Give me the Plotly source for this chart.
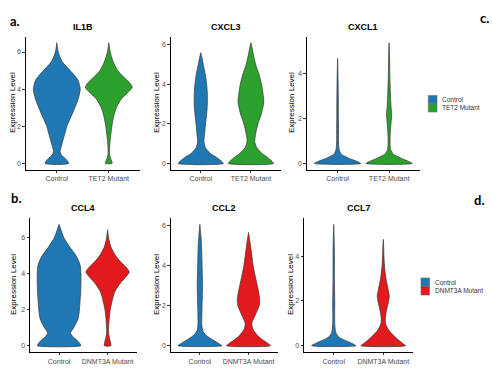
import plotly.graph_objects as go

W, H = 492, 375

# ---------------- data: violin density profiles ----------------
# y levels (expression) and relative violin width (1 = widest in that panel)
genes = ["IL1B", "CXCL3", "CXCL1", "CCL4", "CCL2", "CCL7"]
groups_top = ["Control", "TET2 Mutant"]
groups_bot = ["Control", "DNMT3A Mutant"]

il1b_ctrl_y = [0, 0.15, 0.3, 0.45, 0.63, 1, 1.5, 2, 2.5, 3, 3.5, 4, 4.5, 5, 5.5, 6, 6.5]
il1b_ctrl_d = [0.5, 0.45, 0.33, 0.2, 0.14, 0.21, 0.32, 0.43, 0.6, 0.77, 0.92, 1.0, 0.9, 0.57, 0.22, 0.06, 0]
il1b_tet2_y = [0, 0.1, 0.3, 0.5, 1, 1.5, 2, 2.5, 3, 3.5, 3.8, 4.1, 4.4, 4.7, 5, 5.5, 6, 6.5]
il1b_tet2_d = [0.14, 0.13, 0.07, 0.03, 0.04, 0.08, 0.13, 0.2, 0.32, 0.55, 0.8, 1.0, 0.85, 0.6, 0.38, 0.18, 0.06, 0]

cxcl3_ctrl_y = [0, 0.1, 0.3, 0.5, 0.8, 1.1, 1.5, 2, 2.5, 3, 3.5, 4, 4.5, 5, 5.3, 5.6]
cxcl3_ctrl_d = [1.0, 0.93, 0.71, 0.43, 0.21, 0.14, 0.17, 0.21, 0.26, 0.29, 0.29, 0.26, 0.2, 0.11, 0.06, 0]
cxcl3_tet2_y = [0, 0.1, 0.3, 0.5, 0.8, 1.1, 1.5, 2, 2.5, 3, 3.2, 3.5, 4, 4.5, 5, 5.5, 5.8, 6.1]
cxcl3_tet2_d = [1.0, 0.94, 0.74, 0.5, 0.26, 0.17, 0.21, 0.31, 0.46, 0.56, 0.57, 0.54, 0.47, 0.36, 0.21, 0.11, 0.06, 0]

cxcl1_ctrl_y = [0, 0.1, 0.2, 0.3, 0.4, 0.6, 1, 1.5, 2, 3, 4, 4.65]
cxcl1_ctrl_d = [1.0, 0.82, 0.56, 0.35, 0.17, 0.07, 0.04, 0.04, 0.035, 0.03, 0.015, 0]
cxcl1_tet2_y = [0, 0.1, 0.2, 0.3, 0.4, 0.6, 1, 1.5, 2, 2.2, 2.5, 3, 4, 5, 5.35]
cxcl1_tet2_d = [1.0, 0.82, 0.59, 0.39, 0.2, 0.07, 0.04, 0.06, 0.1, 0.11, 0.085, 0.06, 0.03, 0.015, 0]

ccl4_ctrl_y = [0, 0.1, 0.3, 0.5, 0.7, 1, 1.5, 2, 2.5, 3, 3.5, 4, 4.5, 5, 5.5, 6, 6.5, 6.75]
ccl4_ctrl_d = [1.0, 0.96, 0.82, 0.63, 0.52, 0.67, 0.87, 0.93, 0.96, 0.99, 1.0, 1.0, 0.96, 0.78, 0.48, 0.22, 0.07, 0]
ccl4_dnmt_y = [0, 0.2, 0.4, 0.7, 1, 1.5, 2, 2.5, 3, 3.5, 3.8, 4.1, 4.4, 4.7, 5, 5.5, 6, 6.45]
ccl4_dnmt_d = [0.15, 0.13, 0.09, 0.045, 0.045, 0.075, 0.12, 0.21, 0.33, 0.6, 0.82, 0.99, 0.82, 0.57, 0.37, 0.15, 0.045, 0]

ccl2_ctrl_y = [0, 0.1, 0.3, 0.5, 0.7, 1, 1.5, 2, 3, 4, 5, 5.5, 6.05]
ccl2_ctrl_d = [1.0, 0.87, 0.57, 0.3, 0.15, 0.09, 0.09, 0.1, 0.12, 0.1, 0.075, 0.045, 0]
ccl2_dnmt_y = [0, 0.1, 0.3, 0.5, 0.8, 1.1, 1.5, 2, 2.2, 2.5, 3, 3.5, 4, 4.5, 5, 5.65]
ccl2_dnmt_d = [1.0, 0.9, 0.63, 0.42, 0.21, 0.15, 0.3, 0.49, 0.51, 0.49, 0.4, 0.3, 0.21, 0.15, 0.09, 0]

ccl7_ctrl_y = [0, 0.1, 0.2, 0.3, 0.4, 0.6, 1, 2, 3, 4, 5, 5.42]
ccl7_ctrl_d = [0.99, 0.82, 0.6, 0.37, 0.21, 0.09, 0.045, 0.045, 0.03, 0.03, 0.015, 0]
ccl7_dnmt_y = [0, 0.1, 0.3, 0.5, 0.7, 1, 1.2, 1.5, 2, 2.2, 2.5, 3, 3.5, 4, 4.5, 4.75]
ccl7_dnmt_d = [1.0, 0.87, 0.63, 0.42, 0.24, 0.1, 0.09, 0.13, 0.24, 0.27, 0.22, 0.12, 0.06, 0.03, 0.015, 0]

# ---------------- styling / layout ----------------
BLUE = "#1f78b4"
GREEN = "#2ca02c"
RED = "#e31a1c"
FONT = "Liberation Sans"

panels = [
    dict(gene="IL1B", groups=groups_top, mut_color=GREEN,
         prof=[(il1b_ctrl_y, il1b_ctrl_d), (il1b_tet2_y, il1b_tet2_d)],
         box=(25.6, 140, 36.7, 169.5), ytitle_x=12),
    dict(gene="CXCL3", groups=groups_top, mut_color=GREEN,
         prof=[(cxcl3_ctrl_y, cxcl3_ctrl_d), (cxcl3_tet2_y, cxcl3_tet2_d)],
         box=(170.7, 281, 36.7, 169.5), ytitle_x=156),
    dict(gene="CXCL1", groups=groups_top, mut_color=GREEN,
         prof=[(cxcl1_ctrl_y, cxcl1_ctrl_d), (cxcl1_tet2_y, cxcl1_tet2_d)],
         box=(306.7, 420, 36.7, 169.5), ytitle_x=291),
    dict(gene="CCL4", groups=groups_bot, mut_color=RED,
         prof=[(ccl4_ctrl_y, ccl4_ctrl_d), (ccl4_dnmt_y, ccl4_dnmt_d)],
         box=(30, 136.7, 218.3, 351.7), ytitle_x=13),
    dict(gene="CCL2", groups=groups_bot, mut_color=RED,
         prof=[(ccl2_ctrl_y, ccl2_ctrl_d), (ccl2_dnmt_y, ccl2_dnmt_d)],
         box=(170.7, 277.7, 218.3, 351.7), ytitle_x=156),
    dict(gene="CCL7", groups=groups_bot, mut_color=RED,
         prof=[(ccl7_ctrl_y, ccl7_ctrl_d), (ccl7_dnmt_y, ccl7_dnmt_d)],
         box=(304, 413, 218.3, 351.7), ytitle_x=290),
]

HALF = 0.45  # ggplot violin width 0.9

fig = go.Figure()
annotations = []
shapes = []

def px2x(p):
    return p / W

def px2y(p):
    return 1 - p / H

for k, p in enumerate(panels):
    idx = "" if k == 0 else str(k + 1)
    xa, ya = "x" + idx, "y" + idx
    ymax = max(max(p["prof"][0][0]), max(p["prof"][1][0]))
    colors = [BLUE, p["mut_color"]]
    for i, (ys, ds) in enumerate(p["prof"]):
        right_x = [i + HALF * d for d in ds]
        left_x = [i - HALF * d for d in ds][::-1]
        xs = right_x + left_x + [right_x[0]]
        yy = list(ys) + list(ys)[::-1] + [ys[0]]
        fig.add_trace(go.Scatter(
            x=xs, y=yy, xaxis=xa, yaxis=ya, mode="lines",
            line=dict(color="#333333", width=0.7, shape="spline", smoothing=0.7),
            fill="toself", fillcolor=colors[i], showlegend=False, hoverinfo="skip"))
    l, r, t, b = p["box"]
    common = dict(showline=True, linecolor="black", linewidth=0.8, ticks="outside",
                  ticklen=2.5, tickwidth=0.6, tickcolor="#333333", showgrid=False,
                  zeroline=False, tickfont=dict(size=7, color="#4d4d4d", family=FONT))
    fig.update_layout({
        "xaxis" + idx: dict(common, domain=[px2x(l), px2x(r)], anchor=ya,
                            range=[-0.6, 1.6], tickvals=[0, 1], ticktext=p["groups"]),
        "yaxis" + idx: dict(common, domain=[px2y(b), px2y(t)], anchor=xa,
                            range=[-0.05 * ymax, 1.05 * ymax], tick0=0, dtick=2),
    })
    annotations.append(dict(text="<b>%s</b>" % p["gene"], xref="paper", yref="paper",
                            x=px2x((l + r) / 2), y=px2y(t - 10), showarrow=False,
                            font=dict(size=9, color="black", family=FONT),
                            xanchor="center", yanchor="middle"))
    annotations.append(dict(text="Expression Level", xref="paper", yref="paper",
                            x=px2x(p["ytitle_x"]), y=px2y((t + b) / 2), showarrow=False,
                            textangle=-90, font=dict(size=8, color="black", family=FONT),
                            xanchor="center", yanchor="middle"))

# panel letters
for lab, xp, yp, anc in [("a.", 15, 21, "center"), ("b.", 16, 198, "center"),
                         ("c.", 491, 18, "right"), ("d.", 486, 200, "right")]:
    annotations.append(dict(text="<b>%s</b>" % lab, xref="paper", yref="paper",
                            x=px2x(xp), y=px2y(yp), showarrow=False,
                            font=dict(size=13, color="black", family="Lato"),
                            xanchor=anc, yanchor="middle"))

# legends
legends = [
    (["Control", "TET2 Mutant"], [BLUE, GREEN], 428.3, 437, 95.5, 112),
    (["Control", "DNMT3A Mutant"], [BLUE, RED], 421, 429.5, 278, 295),
]
for labels, cols, x0, x1, y0, y1 in legends:
    hgt = (y1 - y0) / 2
    for j, (lab, c) in enumerate(zip(labels, cols)):
        ya0 = y0 + j * hgt
        shapes.append(dict(type="rect", xref="paper", yref="paper",
                           x0=px2x(x0), x1=px2x(x1), y0=px2y(ya0), y1=px2y(ya0 + hgt),
                           fillcolor=c, line=dict(color="#6a6a6a", width=0.6)))
        annotations.append(dict(text=lab, xref="paper", yref="paper",
                                x=px2x(x1 + 3), y=px2y(ya0 + hgt / 2), showarrow=False,
                                font=dict(size=6.5, color="#333333", family=FONT),
                                xanchor="left", yanchor="middle"))

fig.update_layout(width=W, height=H, margin=dict(l=0, r=0, t=0, b=0),
                  paper_bgcolor="white", plot_bgcolor="white",
                  annotations=annotations, shapes=shapes, showlegend=False)

fig.write_html("out.html", config={"displayModeBar": False},
               post_script="document.body.style.margin='0px';document.body.style.padding='0px';")
